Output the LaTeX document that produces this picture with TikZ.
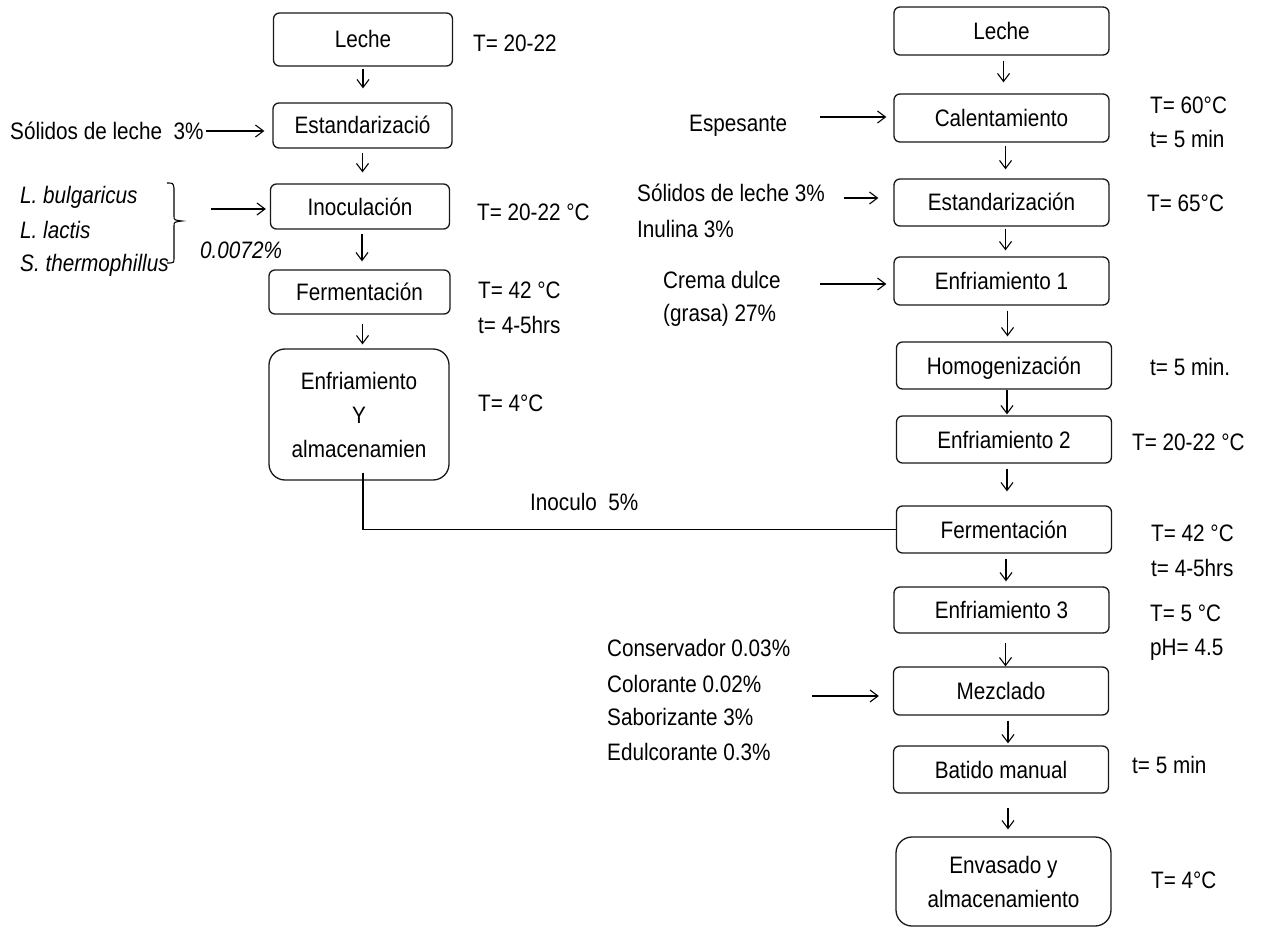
\documentclass[tikz,border=0pt]{standalone}
\usepackage{fontspec}
\setmainfont[FakeStretch=0.87]{Liberation Sans}
\usetikzlibrary{arrows.meta,calc}

\begin{document}
\begin{tikzpicture}[x=1pt,y=-1pt,
  every node/.style={font=\fontsize{23.8}{34}\selectfont, inner sep=0pt},
  stagebox/.style={draw=black!90, line width=1.3pt, rounded corners=6pt,
    text height=17pt, text depth=0pt, minimum height=47pt},
  lstage/.style={stagebox, minimum width=179pt},
  rstage/.style={stagebox, minimum width=215pt},
  tallbox/.style={draw=black!90, line width=1.3pt, rounded corners=16pt, align=center},
  lbl/.style={anchor=west, text height=17pt, text depth=0pt},
  arr/.style={-{Straight Barb[length=8pt,width=12pt]}, line width=1.1pt},
  link/.style={line width=1.3pt}
]
\fill[white] (0,0) rectangle (1261,928);
\useasboundingbox (0,0) rectangle (1261,928);

% ---------- starter culture line ----------
\node[lstage, minimum height=53pt] (L1) at (363,39.5) {Leche};
\node[lstage, minimum height=45pt] (L2) at (362.5,125.5) {Estandarizació};
\node[lstage, minimum height=45pt] (L3) at (360,206.5) {Inoculación};
\node[lstage, minimum height=44pt, minimum width=181pt] (L4) at (359.5,292) {Fermentación};
\node[tallbox, minimum width=180pt, minimum height=131pt] (L5) at (359,414.5)
  {Enfriamiento\\Y\\almacenamien};

\node[lbl] (tL1) at (473,43) {T= 20-22};
\node[lbl] (tL3) at (477,212) {T= 20-22 °C};
\node[lbl] (tL4a) at (478,290) {T= 42 °C};
\node[lbl] (tL4b) at (478,325) {t= 4-5hrs};
\node[lbl] (tL5) at (478,403) {T= 4°C};

\node[lbl] (sol) at (10,131) {Sólidos de leche~~3\%};
\node[lbl] (bac1) at (20,195) {\itshape L. bulgaricus};
\node[lbl] (bac2) at (20,230) {\itshape L. lactis};
\node[lbl] (bac3) at (20,263) {\itshape S. thermophillus};
\node[lbl] (dose) at (200,250) {\itshape 0.0072\%};
\node[lbl] (inoc) at (530,502) {Inoculo~~5\%};

% bracket grouping the three cultures
\coordinate (btip) at (182,221);
\draw[line width=1.1pt] (167,183) .. controls (173,183) .. (174,188) -- (174,216)
  .. controls (174,220) .. (btip) .. controls (174,222) .. (174,226) -- (174,258)
  .. controls (174,263) .. (167,263);

\draw[arr, shorten <=2pt, shorten >=14pt] (L1.south) -- (L1.south |- L2.north);
\draw[arr, shorten <=4pt, shorten >=11pt] (L2.south) -- (L2.south |- L3.north);
\draw[arr, shorten <=4pt, shorten >=8pt] ([xshift=2pt]L3.south) -- ([xshift=2pt]L3.south |- L4.north);
\draw[arr, shorten <=9pt, shorten >=4pt] ([xshift=3pt]L4.south) -- ([xshift=3pt]L4.south |- L5.north);

\draw[arr, shorten <=2pt, shorten >=8pt] (sol.east) -- (sol.east -| L2.west);
\coordinate (inin) at (211,209);
\draw[arr, shorten >=4pt] (inin) -- (inin -| L3.west);

% ---------- yogurt line ----------
\node[rstage, minimum height=48pt] (R1) at (1001.5,31) {Leche};
\node[rstage, minimum height=48pt] (R2) at (1001.5,118) {Calentamiento};
\node[rstage] (R3) at (1001.5,202.5) {Estandarización};
\node[rstage, minimum height=48pt] (R4) at (1001.5,281) {Enfriamiento 1};
\node[rstage] (R5) at (1004,365.5) {Homogenización};
\node[rstage] (R6) at (1004,439.5) {Enfriamiento 2};
\node[rstage] (R7) at (1004,529.5) {Fermentación};
\node[rstage, minimum height=46pt] (R8) at (1001.5,610) {Enfriamiento 3};
\node[rstage, minimum height=48pt] (R9) at (1001,691) {Mezclado};
\node[rstage] (R10) at (1001,769.5) {Batido manual};
\node[tallbox, minimum width=215pt, minimum height=89pt] (R11) at (1003.5,881.5)
  {Envasado y\\almacenamiento};

\node[lbl] (tR2a) at (1150,105) {T= 60°C};
\node[lbl] (tR2b) at (1150,139) {t= 5 min};
\node[lbl] (tR3) at (1147,203) {T= 65°C};
\node[lbl] (tR5) at (1150,367) {t= 5 min.};
\node[lbl] (tR6) at (1132,442) {T= 20-22 °C};
\node[lbl] (tR7a) at (1151,533) {T= 42 °C};
\node[lbl] (tR7b) at (1151,568) {t= 4-5hrs};
\node[lbl] (tR8a) at (1150,613) {T= 5 °C};
\node[lbl] (tR8b) at (1150,647) {pH= 4.5};
\node[lbl] (tR10) at (1132,765) {t= 5 min};
\node[lbl] (tR11) at (1151,880) {T= 4°C};

\node[lbl] (esp) at (689,123) {Espesante};
\node[lbl] (solR) at (637,193) {Sólidos de leche 3\%};
\node[lbl] (inu) at (637,229) {Inulina 3\%};
\node[lbl] (crema) at (663,280) {Crema dulce};
\node[lbl] (grasa) at (663,313) {(grasa) 27\%};
\node[lbl] (add1) at (607,648) {Conservador 0.03\%};
\node[lbl] (add2) at (607,684) {Colorante 0.02\%};
\node[lbl] (add3) at (607,717) {Saborizante 3\%};
\node[lbl] (add4) at (607,752) {Edulcorante 0.3\%};

\draw[arr, shorten <=5pt, shorten >=11pt] ([xshift=2pt]R1.south) -- ([xshift=2pt]R1.south |- R2.north);
\draw[arr, shorten <=3pt, shorten >=9pt] ([xshift=4pt]R2.south) -- ([xshift=4pt]R2.south |- R3.north);
\draw[arr, shorten <=2pt, shorten >=6pt] ([xshift=4pt]R3.south) -- ([xshift=4pt]R3.south |- R4.north);
\draw[arr, shorten <=5pt, shorten >=5pt] ([xshift=6pt]R4.south) -- ([xshift=6pt]R4.south |- R5.north);
\draw[arr, shorten >=1pt] ([xshift=3pt]R5.south) -- ([xshift=3pt]R5.south |- R6.north);
\draw[arr, shorten <=5pt, shorten >=14pt] ([xshift=3pt]R6.south) -- ([xshift=3pt]R6.south |- R7.north);
\draw[arr, shorten <=5pt, shorten >=5pt] ([xshift=2pt]R7.south) -- ([xshift=2pt]R7.south |- R8.north);
\draw[arr, shorten <=9pt] ([xshift=4pt]R8.south) -- ([xshift=4pt]R8.south |- R9.north);
\draw[arr, shorten <=5pt, shorten >=2pt] ([xshift=7pt]R9.south) -- ([xshift=7pt]R9.south |- R10.north);
\draw[arr, shorten <=14pt, shorten >=7pt] ([xshift=7pt]R10.south) -- ([xshift=7pt]R10.south |- R11.north);

\coordinate (espin) at (820,117);
\draw[arr, shorten >=7pt] (espin) -- (espin -| R2.west);
\coordinate (solin) at (844,198);
\draw[arr, shorten >=15pt] (solin) -- (solin -| R3.west);
\coordinate (cremain) at (820,284);
\draw[arr, shorten >=7pt] (cremain) -- (cremain -| R4.west);
\coordinate (addin) at (812,696);
\draw[arr, shorten >=14pt] (addin) -- (addin -| R9.west);

% starter culture fed into the second fermentation
\draw[link] ([xshift=4pt,yshift=8pt]L5.south) |- (R7.west);
\end{tikzpicture}
\end{document}
